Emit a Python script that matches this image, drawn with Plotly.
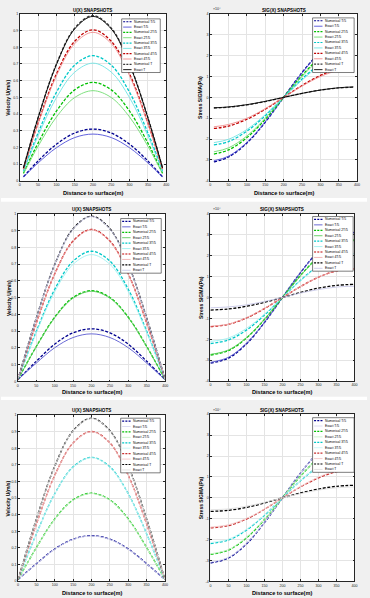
import plotly.graph_objects as go

W, H = 370, 598

series_names = ["Numerical T/5", "Exact T/5", "Numerical 2T/5", "Exact 2T/5",
                "Numerical 3T/5", "Exact 3T/5", "Numerical 4T/5", "Exact 4T/5",
                "Numerical T", "Exact T"]

x_row1 = [10, 50, 100, 150, 200, 250, 300, 350, 390]
x_rows23 = [0, 50, 100, 150, 200, 250, 300, 350, 400]

x_tick_vals = [0, 50, 100, 150, 200, 250, 300, 350, 400]
x_tick_text = ["0", "50", "100", "150", "200", "250", "300", "350", "400"]
u_tick_vals = [0, 0.1, 0.2, 0.3, 0.4, 0.5, 0.6, 0.7, 0.8, 0.9, 1]
u_tick_text = ["0", "0.1", "0.2", "0.3", "0.4", "0.5", "0.6", "0.7", "0.8", "0.9", "1"]
sig_tick_vals = [-4, -3, -2, -1, 0, 1, 2, 3, 4]
sig_tick_text = ["-4", "-3", "-2", "-1", "0", "1", "2", "3", "4"]

# Velocity U (m/s), row 1
u_row1 = [
    [0.024, 0.119, 0.219, 0.286, 0.310, 0.286, 0.219, 0.119, 0.024],
    [0.022, 0.107, 0.198, 0.259, 0.280, 0.259, 0.198, 0.107, 0.022],
    [0.046, 0.226, 0.417, 0.545, 0.590, 0.545, 0.417, 0.226, 0.046],
    [0.042, 0.207, 0.382, 0.499, 0.540, 0.499, 0.382, 0.207, 0.042],
    [0.059, 0.287, 0.530, 0.693, 0.750, 0.693, 0.530, 0.287, 0.059],
    [0.055, 0.270, 0.498, 0.651, 0.705, 0.651, 0.498, 0.270, 0.055],
    [0.071, 0.347, 0.640, 0.836, 0.905, 0.836, 0.640, 0.347, 0.071],
    [0.069, 0.341, 0.629, 0.822, 0.890, 0.822, 0.629, 0.341, 0.069],
    [0.077, 0.379, 0.700, 0.915, 0.990, 0.915, 0.700, 0.379, 0.077],
    [0.077, 0.377, 0.696, 0.910, 0.985, 0.910, 0.696, 0.377, 0.077],
]
# Stress SIGMA (x 1e4 Pa), row 1
sig_row1 = [
    [-3.09, -2.86, -2.19, -1.19, 0, 1.19, 2.19, 2.86, 3.09],
    [-3.04, -2.82, -2.16, -1.17, 0, 1.17, 2.16, 2.82, 3.04],
    [-2.72, -2.52, -1.93, -1.05, 0, 1.05, 1.93, 2.52, 2.72],
    [-2.61, -2.42, -1.85, -1.00, 0, 1.00, 1.85, 2.42, 2.61],
    [-2.28, -2.12, -1.62, -0.88, 0, 0.88, 1.62, 2.12, 2.28],
    [-2.17, -2.01, -1.54, -0.83, 0, 0.83, 1.54, 2.01, 2.17],
    [-1.49, -1.38, -1.05, -0.57, 0, 0.57, 1.05, 1.38, 1.49],
    [-1.41, -1.30, -1.00, -0.54, 0, 0.54, 1.00, 1.30, 1.41],
    [-0.51, -0.47, -0.36, -0.20, 0, 0.19, 0.35, 0.45, 0.49],
    [-0.50, -0.46, -0.35, -0.19, 0, 0.19, 0.35, 0.46, 0.50],
]
# row 2
u_row2 = [
    [0.01, 0.120, 0.222, 0.290, 0.314, 0.290, 0.222, 0.120, 0.01],
    [0.01, 0.109, 0.201, 0.262, 0.284, 0.262, 0.201, 0.109, 0.01],
    [0.01, 0.208, 0.383, 0.501, 0.542, 0.501, 0.383, 0.208, 0.01],
    [0.01, 0.206, 0.380, 0.497, 0.538, 0.497, 0.380, 0.206, 0.01],
    [0.01, 0.298, 0.549, 0.718, 0.777, 0.718, 0.549, 0.298, 0.01],
    [0.01, 0.290, 0.535, 0.699, 0.757, 0.699, 0.535, 0.290, 0.01],
    [0.01, 0.347, 0.641, 0.838, 0.907, 0.838, 0.641, 0.347, 0.01],
    [0.01, 0.347, 0.640, 0.836, 0.905, 0.836, 0.640, 0.347, 0.01],
    [0.01, 0.378, 0.697, 0.911, 0.986, 0.911, 0.697, 0.378, 0.01],
    [0.01, 0.377, 0.696, 0.909, 0.984, 0.909, 0.696, 0.377, 0.01],
]
sig_row2 = [
    [-3.14, -2.90, -2.22, -1.20, 0, 1.19, 2.21, 2.88, 3.12],
    [-3.10, -2.86, -2.19, -1.19, 0, 1.19, 2.19, 2.86, 3.10],
    [-2.75, -2.54, -1.94, -1.05, 0, 1.05, 1.94, 2.54, 2.75],
    [-2.72, -2.51, -1.92, -1.04, 0, 1.04, 1.92, 2.51, 2.72],
    [-2.20, -2.03, -1.56, -0.84, 0, 0.82, 1.52, 1.99, 2.15],
    [-2.10, -1.94, -1.48, -0.80, 0, 0.80, 1.48, 1.94, 2.10],
    [-1.39, -1.28, -0.98, -0.53, 0, 0.52, 0.97, 1.27, 1.37],
    [-1.37, -1.27, -0.97, -0.52, 0, 0.52, 0.97, 1.27, 1.37],
    [-0.60, -0.55, -0.42, -0.23, 0, 0.24, 0.45, 0.58, 0.63],
    [-0.49, -0.45, -0.35, -0.19, 0, 0.21, 0.38, 0.50, 0.54],
]
# row 3
u_row3 = [
    [0.01, 0.105, 0.194, 0.253, 0.274, 0.253, 0.194, 0.105, 0.01],
    [0.01, 0.104, 0.192, 0.251, 0.272, 0.251, 0.192, 0.104, 0.01],
    [0.01, 0.203, 0.375, 0.490, 0.530, 0.490, 0.375, 0.203, 0.01],
    [0.01, 0.202, 0.373, 0.488, 0.528, 0.488, 0.373, 0.202, 0.01],
    [0.01, 0.286, 0.527, 0.689, 0.746, 0.689, 0.527, 0.286, 0.01],
    [0.01, 0.285, 0.526, 0.687, 0.744, 0.687, 0.526, 0.285, 0.01],
    [0.01, 0.345, 0.638, 0.833, 0.902, 0.833, 0.638, 0.345, 0.01],
    [0.01, 0.345, 0.636, 0.832, 0.900, 0.832, 0.636, 0.345, 0.01],
    [0.01, 0.376, 0.694, 0.907, 0.982, 0.907, 0.694, 0.376, 0.01],
    [0.01, 0.375, 0.693, 0.906, 0.980, 0.906, 0.693, 0.375, 0.01],
]
sig_row3 = [
    [-3.12, -2.88, -2.21, -1.19, 0, 1.18, 2.18, 2.86, 3.09],
    [-3.08, -2.85, -2.18, -1.18, 0, 1.18, 2.18, 2.85, 3.08],
    [-2.71, -2.50, -1.92, -1.04, 0, 1.03, 1.90, 2.49, 2.69],
    [-2.68, -2.48, -1.89, -1.03, 0, 1.03, 1.89, 2.48, 2.68],
    [-2.19, -2.02, -1.55, -0.84, 0, 0.81, 1.50, 1.96, 2.12],
    [-2.14, -1.98, -1.51, -0.82, 0, 0.82, 1.51, 1.98, 2.14],
    [-1.44, -1.33, -1.02, -0.55, 0, 0.52, 0.95, 1.25, 1.35],
    [-1.40, -1.29, -0.99, -0.54, 0, 0.54, 0.99, 1.29, 1.40],
    [-0.65, -0.60, -0.46, -0.25, 0, 0.23, 0.42, 0.55, 0.60],
    [-0.57, -0.53, -0.40, -0.22, 0, 0.20, 0.37, 0.48, 0.52],
]

# styles
colors_row1 = ["#00008f", "#5050d8", "#00c000", "#70dc70", "#00c8c8", "#70e4e4",
               "#c00000", "#f08c8c", "#3a3a3a", "#000000"]
colors_row2 = ["#00008f", "#5a5ad0", "#00c000", "#5ccc5c", "#00c8c8", "#a0f0f0",
               "#c00000", "#f0b0b0", "#000000", "#c8c8e8"]
colors_row3 = ["#00008f", "#d8d8f0", "#00c000", "#c8f0c8", "#00c8c8", "#c8f4f4",
               "#c83030", "#f4c8c8", "#000000", "#e0e0e0"]

FONT = "Liberation Sans"
INK = "#262626"

panels = [
    dict(x=x_row1, data=u_row1, colors=colors_row1, box=(19, 12, 167, 180), kind="u",
         leg=(122, 17, 161, 71), title_y=9, xtitle_y=192),
    dict(x=x_row1, data=sig_row1, colors=colors_row1, box=(211.5, 12, 360, 180), kind="s",
         leg=(315, 16, 357, 71), title_y=9, xtitle_y=192),
    dict(x=x_rows23, data=u_row2, colors=colors_row2, box=(17, 213.3, 166, 382), kind="u",
         leg=(121, 218, 162, 273), title_y=209, xtitle_y=392.5),
    dict(x=x_rows23, data=sig_row2, colors=colors_row2, box=(211.7, 213.3, 357.3, 381.7), kind="s",
         leg=(315, 216, 356, 271), title_y=209, xtitle_y=392.5),
    dict(x=x_rows23, data=u_row3, colors=colors_row3, box=(17.3, 416, 165.7, 583), kind="u",
         leg=(121, 419, 161, 474), title_y=411.5, xtitle_y=594.5),
    dict(x=x_rows23, data=sig_row3, colors=colors_row3, box=(211.7, 415, 357.3, 583.3), kind="s",
         leg=(315, 418.5, 357, 473.5), title_y=411.5, xtitle_y=594.5),
]


def px(xp):
    return xp / W


def py(yp):
    return 1 - yp / H


fig = go.Figure()
shapes = []
annotations = []
layout = {}

# white gaps between rows
for top, bot in [(197.3, 201), (397.3, 400.8)]:
    shapes.append(dict(type="rect", xref="paper", yref="paper", x0=0, x1=1,
                       y0=py(bot), y1=py(top), fillcolor="white", line=dict(width=0),
                       layer="below"))

for i, p in enumerate(panels):
    n = "" if i == 0 else str(i + 1)
    xa, ya = "x" + n, "y" + n
    l, t, r, b = p["box"]
    common = dict(showgrid=True, gridcolor="#e4e4e4", gridwidth=0.6, showline=True,
                  linecolor=INK, linewidth=0.8, mirror="ticks", ticks="inside",
                  ticklen=2, tickwidth=0.6, tickcolor=INK, zeroline=False,
                  tickfont=dict(size=3.6, color=INK, family=FONT), fixedrange=True)
    layout["xaxis" + n] = dict(common, domain=[px(l), px(r)], range=[0, 400],
                               tickvals=x_tick_vals, ticktext=x_tick_text, anchor=ya)
    if p["kind"] == "u":
        layout["yaxis" + n] = dict(common, domain=[py(b), py(t)], range=[0, 1],
                                   tickvals=u_tick_vals, ticktext=u_tick_text, anchor=xa)
    else:
        layout["yaxis" + n] = dict(common, domain=[py(b), py(t)], range=[-4, 4],
                                   tickvals=sig_tick_vals, ticktext=sig_tick_text, anchor=xa)

    for k, (name, ys) in enumerate(zip(series_names, p["data"])):
        numerical = name.startswith("Numerical")
        fig.add_trace(go.Scatter(
            x=p["x"], y=ys, mode="lines", name=name, showlegend=False,
            xaxis=xa, yaxis=ya,
            line=dict(color=p["colors"][k], width=1.3 if numerical else 0.9,
                      dash="3px,1.6px" if numerical else "solid", shape="spline",
                      smoothing=1.0)))

    # titles
    cx = (l + r) / 2
    title = "U(X) SNAPSHOTS" if p["kind"] == "u" else "SIG(X) SNAPSHOTS"
    annotations.append(dict(text="<b>" + title + "</b>", x=px(cx), y=py(p["title_y"]),
                            xref="paper", yref="paper", showarrow=False,
                            xanchor="center", yanchor="middle",
                            font=dict(size=4.6, color="#000000", family=FONT)))
    annotations.append(dict(text="<b>Distance to surface(m)</b>", x=px(cx), y=py(p["xtitle_y"]),
                            xref="paper", yref="paper", showarrow=False,
                            xanchor="center", yanchor="middle",
                            font=dict(size=5.6, color="#000000", family=FONT)))
    ytitle = "Velocity U(m/s)" if p["kind"] == "u" else "Stress SIGMA(Pa)"
    ytx = 7.5 if p["kind"] == "u" else 201.7
    annotations.append(dict(text="<b>" + ytitle + "</b>", x=px(ytx), y=py((t + b) / 2),
                            xref="paper", yref="paper", showarrow=False, textangle=-90,
                            xanchor="center", yanchor="middle",
                            font=dict(size=5.0, color="#000000", family=FONT)))
    if p["kind"] == "s":
        annotations.append(dict(text="×10⁴", x=px(l + 0.5), y=py(t - 0.5),
                                xref="paper", yref="paper", showarrow=False,
                                xanchor="left", yanchor="bottom",
                                font=dict(size=3.6, color=INK, family=FONT)))

    # legend box (drawn manually so entries are compact like the original)
    gl, gt, gr, gb = p["leg"]
    shapes.append(dict(type="rect", xref="paper", yref="paper", x0=px(gl), x1=px(gr),
                       y0=py(gb), y1=py(gt), fillcolor="white",
                       line=dict(color=INK, width=0.6), layer="above"))
    step = (gb - gt - 5.8) / 9
    for k, name in enumerate(series_names):
        yy = gt + 2.9 + k * step
        numerical = name.startswith("Numerical")
        shapes.append(dict(type="line", xref="paper", yref="paper", x0=px(gl + 1.5),
                           x1=px(gl + 10), y0=py(yy), y1=py(yy),
                           line=dict(color=p["colors"][k], width=1.2 if numerical else 0.9,
                                     dash="2px,1.2px" if numerical else "solid"),
                           layer="above"))
        annotations.append(dict(text=name, x=px(gl + 11.5), y=py(yy), xref="paper",
                                yref="paper", showarrow=False, xanchor="left",
                                yanchor="middle", borderpad=0,
                                font=dict(size=3.4, color="#000000", family=FONT)))

fig.update_layout(**layout)
fig.update_layout(width=W, height=H, margin=dict(l=0, r=0, t=0, b=0),
                  paper_bgcolor="#f0f0f0", plot_bgcolor="#ffffff",
                  showlegend=False, shapes=shapes, annotations=annotations,
                  font=dict(family=FONT))

fig.write_html("out.html", config={"displayModeBar": False})
